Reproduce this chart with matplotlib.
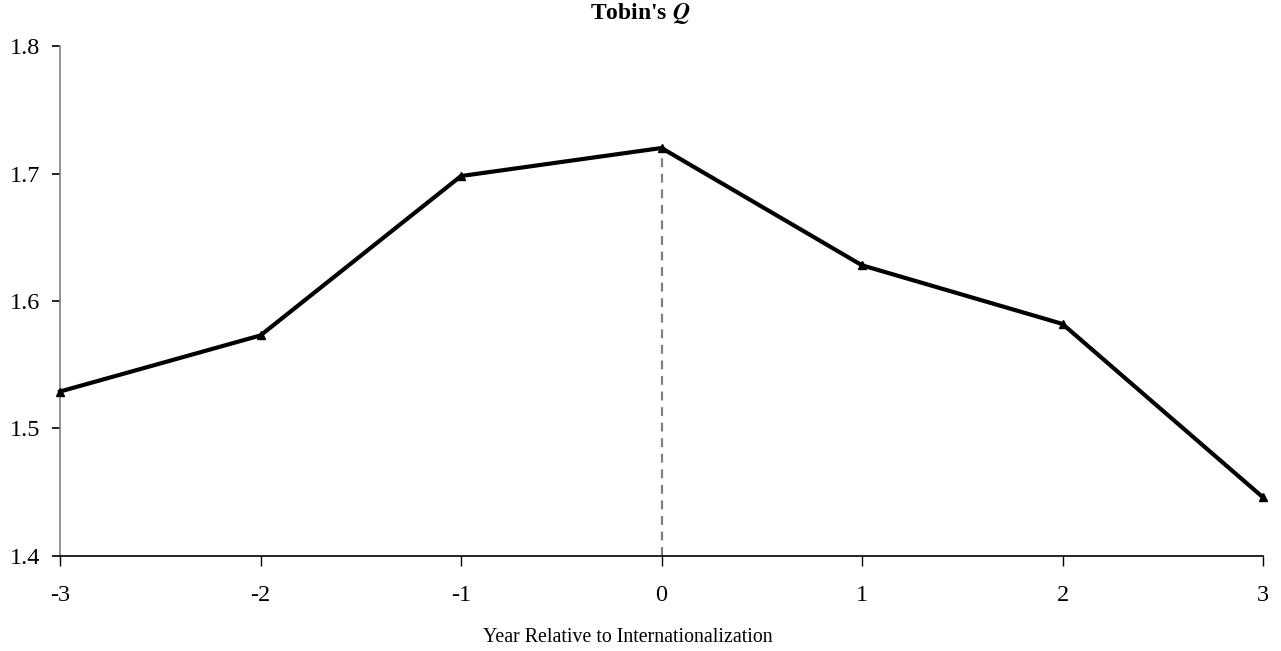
import matplotlib.pyplot as plt

years = [-3, -2, -1, 0, 1, 2, 3]
tobins_q = [1.529, 1.573, 1.698, 1.720, 1.628, 1.582, 1.446]

plt.rcParams['font.family'] = ['Liberation Serif', 'DejaVu Serif']
plt.rcParams['mathtext.fontset'] = 'stix'

fig = plt.figure(figsize=(12.81, 6.51), dpi=100)
ax = fig.add_axes([60 / 1281, 95 / 651, 1203 / 1281, 510 / 651])

# --- event-year marker ---
ax.plot([0, 0], [1.4, tobins_q[years.index(0)]], color='#808080',
        linestyle=(0, (4, 3)), linewidth=1.6, zorder=2)

# --- Tobin's Q series ---
ax.plot(years, tobins_q, color='black', linewidth=3, marker='^',
        markersize=6, zorder=3, clip_on=False)

ax.set_xlim(-3, 3)
ax.set_ylim(1.4, 1.8)
ax.set_xticks(years)
ax.set_xticklabels([str(y) for y in years])
ax.set_yticks([1.4, 1.5, 1.6, 1.7, 1.8])
ax.set_yticklabels(['1.4', '1.5', '1.6', '1.7', '1.8'])

ax.spines['top'].set_visible(False)
ax.spines['right'].set_visible(False)
ax.spines['left'].set_color('#808080')
ax.spines['left'].set_linewidth(1.2)
ax.spines['bottom'].set_color('black')
ax.spines['bottom'].set_linewidth(1.2)

ax.tick_params(axis='y', direction='out', length=6, width=1.2, colors='black',
               labelsize=17.5, pad=8)
ax.tick_params(axis='x', direction='out', length=7, width=1.0, colors='black',
               labelsize=17.5, pad=14)

fig.text(628 / 1281, 1 - 637 / 651, 'Year Relative to Internationalization',
         fontsize=14.3, ha='center', va='center')
fig.text(0.5, 1 - 14 / 651, "Tobin's $\\mathbfit{Q}$", fontsize=17,
         fontweight='bold', ha='center', va='center')

fig.savefig('out.png', dpi=100)
